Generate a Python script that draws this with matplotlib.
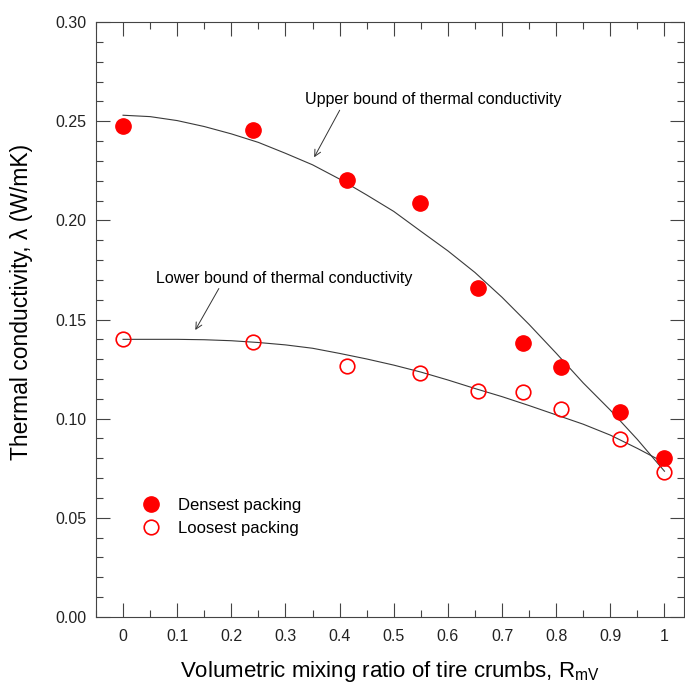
import matplotlib
matplotlib.use("Agg")
import matplotlib.pyplot as plt
from matplotlib.ticker import MultipleLocator, FuncFormatter

plt.rcParams['font.family'] = ['Liberation Sans', 'DejaVu Sans']

# measured conductivity vs. volumetric mixing ratio of tire crumbs
ratio = [0, 0.24, 0.414, 0.548, 0.655, 0.739, 0.809, 0.918, 1.0]
densest = [0.2477, 0.2456, 0.2203, 0.2089, 0.1657, 0.1380, 0.1262, 0.1035, 0.0803]
loosest = [0.1400, 0.1385, 0.1266, 0.1229, 0.1141, 0.1136, 0.1049, 0.0896, 0.0730]

# theoretical bounds
bound_x = [0, 0.05, 0.1, 0.15, 0.2, 0.25, 0.3, 0.35, 0.4, 0.45, 0.5,
           0.55, 0.6, 0.65, 0.7, 0.75, 0.8, 0.85, 0.9, 0.95, 1.0]
upper_bound = [0.2530, 0.2523, 0.2503, 0.2473, 0.2436, 0.2393, 0.2338,
               0.2280, 0.2208, 0.2128, 0.2045, 0.1945, 0.1846, 0.1737,
               0.1612, 0.1475, 0.1330, 0.1180, 0.1043, 0.0895, 0.0735]
lower_bound = [0.1400, 0.1400, 0.1400, 0.1398, 0.1393, 0.1384, 0.1372,
               0.1355, 0.1329, 0.1301, 0.1270, 0.1235, 0.1195, 0.1152,
               0.1111, 0.1066, 0.1019, 0.0972, 0.0917, 0.0850, 0.0778]

fig = plt.figure(figsize=(6.85, 6.86), dpi=100)
ax = fig.add_axes([0.1401, 0.1006, 0.8584, 0.8673])

ax.plot(bound_x, upper_bound, color='#3a3a3a', lw=0.8)
ax.plot(bound_x, lower_bound, color='#3a3a3a', lw=0.8)

ax.plot(ratio, densest, 'o', color='red', ms=11, label='Densest packing')
ax.plot(ratio, loosest, 'o', mfc='none', mec='red', mew=1.2, ms=10.5,
        label='Loosest packing')

ax.annotate('Upper bound of thermal conductivity', xy=(0.353, 0.2318),
            xytext=(0.3366, 0.2607), fontsize=11.5, va='center',
            arrowprops=dict(arrowstyle='->', color='#333333', lw=0.7,
                            shrinkA=0, shrinkB=0,
                            relpos=(0.14, 0.0)))
ax.annotate('Lower bound of thermal conductivity', xy=(0.1335, 0.1447),
            xytext=(0.0615, 0.1708), fontsize=11.5, va='center',
            arrowprops=dict(arrowstyle='->', color='#333333', lw=0.7,
                            shrinkA=0, shrinkB=0,
                            relpos=(0.25, 0.0)))

ax.set_xlim(-0.05, 1.036)
ax.set_ylim(0, 0.30)
ax.xaxis.set_major_locator(MultipleLocator(0.1))
ax.xaxis.set_minor_locator(MultipleLocator(0.05))
ax.yaxis.set_major_locator(MultipleLocator(0.05))
ax.yaxis.set_minor_locator(MultipleLocator(0.01))
ax.xaxis.set_major_formatter(FuncFormatter(lambda v, p: '%g' % round(v, 2)))
ax.yaxis.set_major_formatter(FuncFormatter(lambda v, p: '%.2f' % v))

ax.tick_params(which='both', direction='in', top=True, right=True,
               color='#444444', width=0.8, labelsize=11.5, labelcolor='#222222')
ax.tick_params(which='major', length=10)
ax.tick_params(which='minor', length=5)
ax.tick_params(axis='x', pad=9)
ax.tick_params(axis='y', pad=7)
for s in ax.spines.values():
    s.set_color('#444444')
    s.set_linewidth(0.8)

ax.set_xlabel('Volumetric mixing ratio of tire crumbs, R$_{\\mathregular{mV}}$',
              fontsize=16)
ax.set_ylabel('Thermal conductivity, λ (W/mK)', fontsize=16.5)
ax.xaxis.set_label_coords(0.5, -0.07)
ax.yaxis.set_label_coords(-0.107, 0.53)

ax.legend(loc='upper left', bbox_to_anchor=(0.04, 0.225), frameon=False,
          fontsize=12, handletextpad=0.6, labelspacing=0.45, numpoints=1)

fig.savefig('out.png', dpi=100)
